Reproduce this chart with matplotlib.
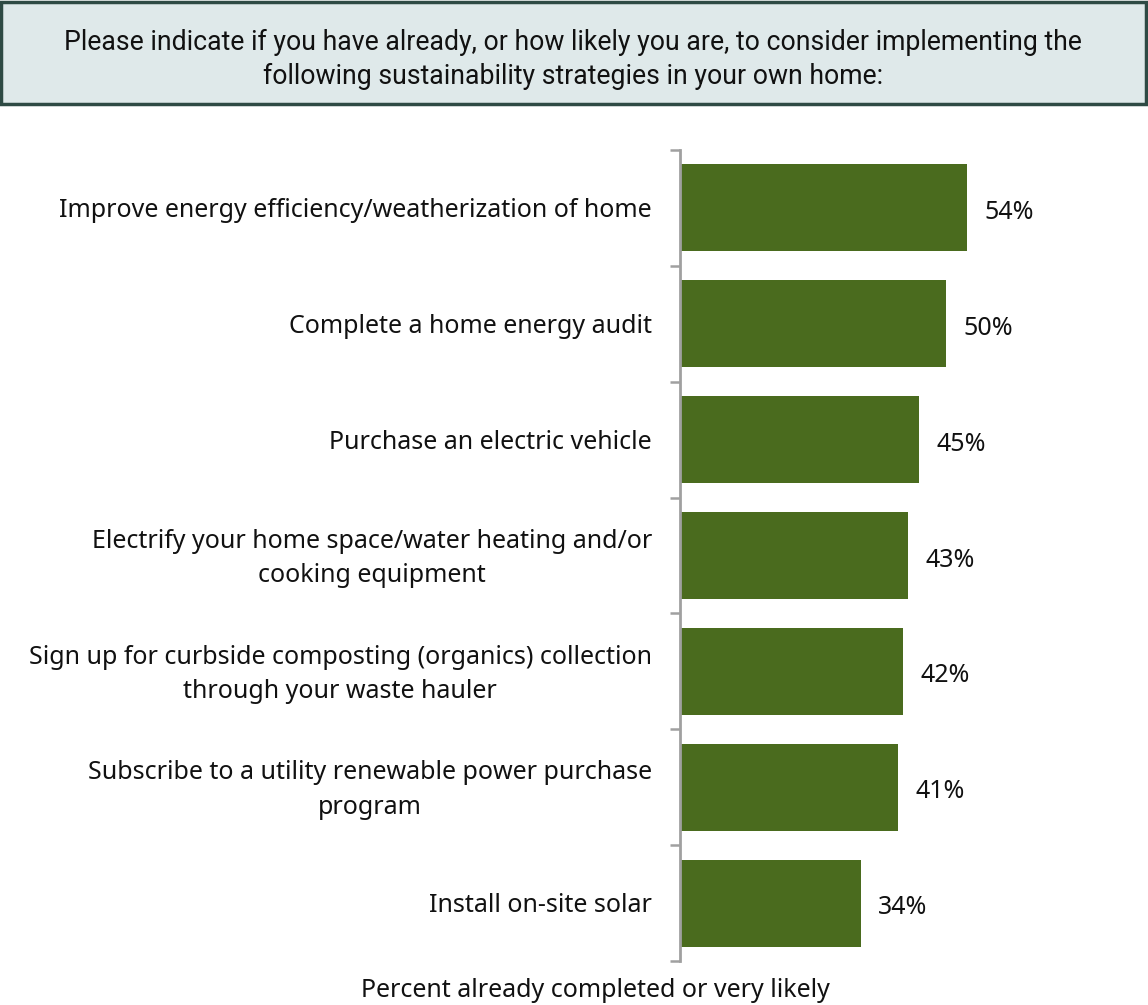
import matplotlib
matplotlib.use("Agg")
import matplotlib.pyplot as plt
from matplotlib.patches import Rectangle

# Survey results: share already completed or very likely
strategies = [
    "Improve energy efficiency/weatherization of home",
    "Complete a home energy audit",
    "Purchase an electric vehicle",
    "Electrify your home space/water heating and/or\ncooking equipment",
    "Sign up for curbside composting (organics) collection\nthrough your waste hauler",
    "Subscribe to a utility renewable power purchase\nprogram",
    "Install on-site solar",
]
percent = [54, 50, 45, 43, 42, 41, 34]

title_text = ("Please indicate if you have already, or how likely you are, to consider implementing the\n"
              "following sustainability strategies in your own home:")
x_label = "Percent already completed or very likely"

W, H = 1148, 1005
fig = plt.figure(figsize=(W / 100, H / 100), dpi=100)

# Title banner
fig.patches.append(Rectangle((1 / W, 1 - 104 / H), (W - 3) / W, 102 / H,
                             transform=fig.transFigure, facecolor="#dfe9ea",
                             edgecolor="#2e4a44", linewidth=2.5, zorder=0))
fig.text(573 / W, 1 - 59.5 / H, title_text, ha="center", va="center",
         family="Roboto", fontsize=19.2, color="#111111", linespacing=1.35)

ax_left, ax_right = 680 / W, (680 + 60 * 5.31) / W
ax_top, ax_bot = 1 - 150 / H, 1 - 961 / H
ax = fig.add_axes([ax_left, ax_bot, ax_right - ax_left, ax_top - ax_bot])

n = len(strategies)
ypos = list(range(n))
ax.barh(ypos, percent, height=0.75, color="#4a6b1e", edgecolor="none")
ax.set_xlim(0, 60)
ax.set_ylim(n - 0.5, -0.5)

for y, v in zip(ypos, percent):
    ax.text(v + 3.3, y + 0.04, f"{v}%", ha="left", va="center",
            family="Noto Sans", fontsize=18, color="#111111")

ax.set_yticks([i - 0.5 for i in range(n + 1)])
ax.set_yticklabels([])
ax.tick_params(axis="y", length=7, width=1.8, color="#a0a0a0", direction="out")
for y, label in zip(ypos, strategies):
    ax.text(-5.3, y + 0.025, label, ha="right", va="center", multialignment="center",
            family="Noto Sans", fontsize=18, color="#111111", linespacing=1.5)

ax.set_xticks([])
for side in ("top", "right", "bottom"):
    ax.spines[side].set_visible(False)
ax.spines["left"].set_color("#a0a0a0")
ax.spines["left"].set_linewidth(2)

fig.text(595 / W, 1 - 990 / H, x_label, ha="center", va="center",
         family="Noto Sans", fontsize=18, color="#111111")

fig.savefig("out.png", dpi=100)
